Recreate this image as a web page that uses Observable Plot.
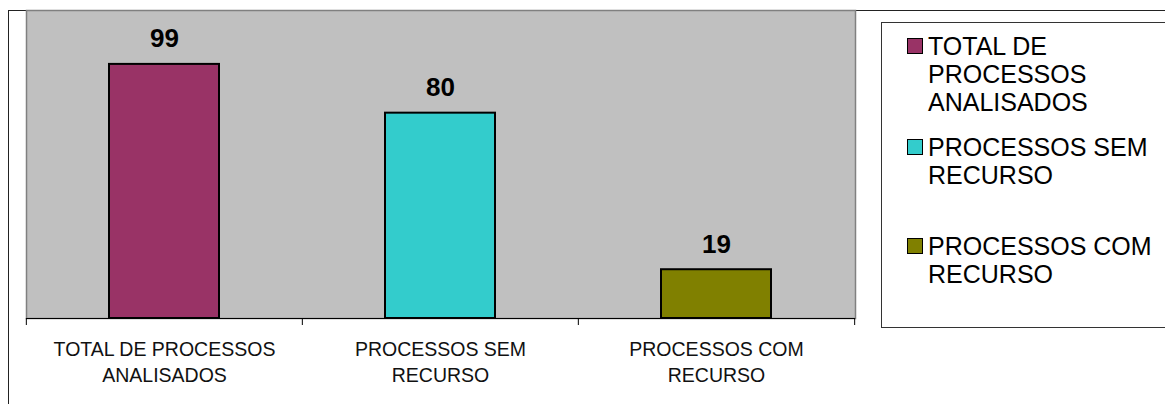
<!DOCTYPE html>
<html>
<head>
<meta charset="utf-8">
<script src="https://cdn.jsdelivr.net/npm/d3@7"></script>
<script src="https://cdn.jsdelivr.net/npm/@observablehq/plot@0.6"></script>
<style>
  html, body { margin: 0; padding: 0; background: #fff; }
  #wrap { position: relative; width: 1165px; height: 404px; overflow: hidden; font-family: "Liberation Sans", Arial, sans-serif; }
  #outer { position: absolute; left: 8px; top: 10px; width: 1200px; height: 500px; border-left: 1.5px solid #222; border-top: 1.5px solid #222; box-sizing: border-box; }
  #chart { position: absolute; left: 0; top: 0; }
  #legend { position: absolute; left: 881px; top: 22px; width: 320px; height: 306px; border: 1px solid #333; box-sizing: border-box; background: #fff; }
  .item { position: absolute; left: 0; }
  .sw { position: absolute; left: 25px; top: 6px; width: 16px; height: 16px; border: 1.5px solid #000; box-sizing: border-box; }
  .lab { position: absolute; left: 46px; top: 0; font-size: 25px; line-height: 28px; white-space: pre; color: #000; }
</style>
</head>
<body>
<div id="wrap">
  <div id="outer"></div>
  <div id="chart"></div>
  <div id="legend"></div>
</div>
<script>
// ---- data ----
const categories = ["TOTAL DE PROCESSOS ANALISADOS", "PROCESSOS SEM RECURSO", "PROCESSOS COM RECURSO"];
const values = [99, 80, 19];
const axisLabels = ["TOTAL DE PROCESSOS\nANALISADOS", "PROCESSOS SEM\nRECURSO", "PROCESSOS COM\nRECURSO"];
const legendLabels = ["TOTAL DE\nPROCESSOS\nANALISADOS", "PROCESSOS SEM\nRECURSO", "PROCESSOS COM\nRECURSO"];
const colors = ["#993366", "#33CCCC", "#808000"];

const data = categories.map((c, i) => ({cat: c, value: values[i], label: axisLabels[i]}));

// ---- layout ----
const W = 1165, H = 404;
const mL = 26, mR = 310, mT = 10, mB = 86;
const step = (W - mL - mR) / categories.length;

const chart = Plot.plot({
  width: W, height: H,
  marginLeft: mL, marginRight: mR, marginTop: mT, marginBottom: mB,
  style: {background: "transparent", fontFamily: "'Liberation Sans', Arial, sans-serif", color: "#000"},
  x: {domain: categories, paddingInner: 0.6, paddingOuter: 0.3, axis: null, label: null},
  y: {domain: [0, 120], axis: null, label: null},
  color: {domain: categories, range: colors},
  marks: [
    Plot.frame({fill: "#C0C0C0", stroke: "#808080", strokeWidth: 1.5}),
    Plot.barY(data, {x: "cat", y: "value", fill: "cat", stroke: "#000", strokeWidth: 2}),
    Plot.text(data, {x: "cat", y: "value", text: d => String(d.value), dy: -25.5, fontSize: 26, fontWeight: "bold", fill: "#000"}),
    Plot.ruleY([0], {stroke: "#000", strokeWidth: 1.2}),
    Plot.axisX({ticks: categories, tickSize: 7, tickFormat: () => "", label: null, dx: -step / 2, stroke: "#000"}),
    Plot.axisX({ticks: [categories[categories.length - 1]], tickSize: 7, tickFormat: () => "", label: null, dx: step / 2, stroke: "#000"}),
    Plot.text(data, {x: "cat", text: "label", frameAnchor: "bottom", lineAnchor: "top", dy: 19, fontSize: 19.5, lineHeight: 1.333, fill: "#111"})
  ]
});
document.getElementById("chart").appendChild(chart);

// ---- legend ----
const legend = document.getElementById("legend");
const itemTops = [9, 110, 209];
categories.forEach((c, i) => {
  const it = document.createElement("div");
  it.className = "item";
  it.style.top = itemTops[i] + "px";
  const sw = document.createElement("div");
  sw.className = "sw";
  sw.style.background = colors[i];
  const lab = document.createElement("div");
  lab.className = "lab";
  lab.textContent = legendLabels[i];
  it.appendChild(sw);
  it.appendChild(lab);
  legend.appendChild(it);
});
</script>
</body>
</html>
